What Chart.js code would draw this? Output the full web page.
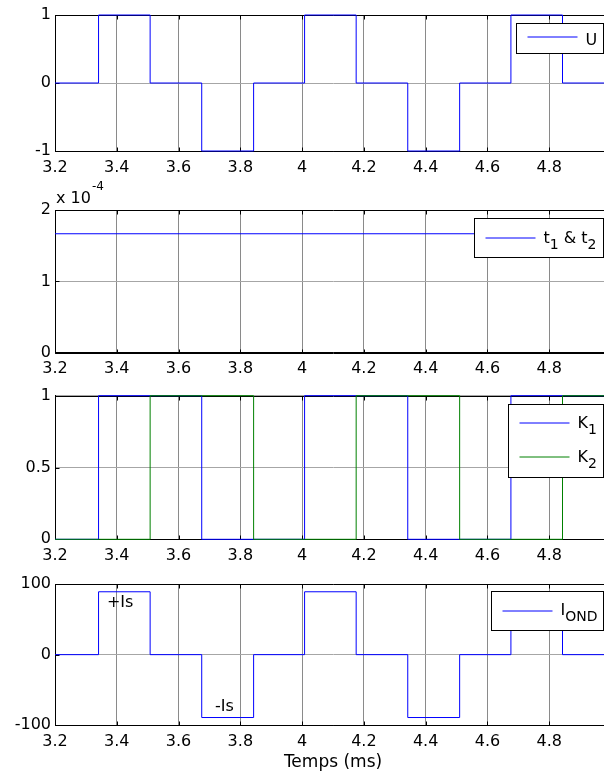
<!DOCTYPE html>
<html>
<head>
<meta charset="utf-8">
<script src="https://cdn.jsdelivr.net/npm/chart.js@4.4.1/dist/chart.umd.min.js"></script>
<style>
  html, body { margin: 0; padding: 0; background: #fff; }
  #wrap { position: relative; width: 604px; height: 773px; overflow: hidden; background: #fff; }
  #wrap canvas { position: absolute; left: 0; }
</style>
</head>
<body>
<div id="wrap">
  <canvas id="cU" width="612" height="180" style="top:0px"></canvas>
  <canvas id="cT" width="612" height="200" style="top:180px"></canvas>
  <canvas id="cK" width="612" height="185" style="top:380px"></canvas>
  <canvas id="cI" width="612" height="208" style="top:565px"></canvas>
</div>
<script>
// switching instants (ms), shared by every square wave below
const tEdges = [3.2, 3.341, 3.508, 3.675, 3.843, 4.008, 4.175, 4.342, 4.51, 4.676, 4.843, 5.0];
const U      = [0, 1, 0, -1, 0, 1, 0, -1, 0, 1, 0, 0];
const K1     = [0, 1, 1, 0, 0, 1, 1, 0, 0, 1, 1, 1];
const K2     = [0, 0, 1, 1, 0, 0, 1, 1, 0, 0, 1, 1];
const IOND   = [0, 89, 0, -89, 0, 89, 0, -89, 0, 89, 0, 0];

// t1 & t2 (s) stay constant over the window
const tT12 = [3.2, 5.0];
const T12  = [1.667e-4, 1.667e-4];

const xTicks  = [3.2, 3.4, 3.6, 3.8, 4.0, 4.2, 4.4, 4.6, 4.8, 5.0];
const yTicksU = [-1, 0, 1];
const yTicksT = [0, 1e-4, 2e-4];
const yTicksK = [0, 0.5, 1];
const yTicksI = [-100, 0, 100];

// text notes on the current plot
const noteText = ['+Is', '-Is'];
const noteT    = [3.368, 3.718];
const noteV    = [73, -74];

const FAMILY = 'DejaVu Sans';
const BLUE = '#0000ff';
const GREEN = '#008000';
const tickFont = {family: FAMILY, size: 16};

const pts = (xs, ys) => xs.map((x, i) => ({x, y: ys[i]}));

// splits "K_1" / "I_{OND}" into plain and subscript runs
function texRuns(str) {
  const runs = [];
  let i = 0;
  while (i < str.length) {
    if (str[i] === '_') {
      let sub;
      if (str[i + 1] === '{') {
        const j = str.indexOf('}', i);
        sub = str.slice(i + 2, j);
        i = j + 1;
      } else {
        sub = str[i + 1];
        i += 2;
      }
      runs.push({t: sub, sub: true});
    } else {
      let j = i;
      while (j < str.length && str[j] !== '_') j++;
      runs.push({t: str.slice(i, j), sub: false});
      i = j;
    }
  }
  return runs;
}

function texWidth(ctx, str) {
  let w = 0;
  texRuns(str).forEach(r => {
    ctx.font = `${r.sub ? 14 : 16}px "${FAMILY}"`;
    w += ctx.measureText(r.t).width;
  });
  return w;
}

function drawTex(ctx, str, x, y) {
  texRuns(str).forEach(r => {
    ctx.font = `${r.sub ? 14 : 16}px "${FAMILY}"`;
    ctx.fillText(r.t, x, r.sub ? y + 6 : y);
    x += ctx.measureText(r.t).width;
  });
}

// box, inward ticks, legend and labels drawn the way the scope plots look
const matlabAxes = {
  id: 'matlabAxes',
  beforeDatasetsDraw(chart) {
    const {ctx, chartArea: a, scales: {x, y}} = chart;
    const L = Math.round(a.left) + 0.5, R = Math.round(a.right) + 0.5;
    const T = Math.round(a.top) + 0.5, B = Math.round(a.bottom) + 0.5;
    ctx.save();
    ctx.strokeStyle = '#000';
    ctx.lineWidth = 1;
    ctx.beginPath();
    ctx.moveTo(L, B); ctx.lineTo(L, T); ctx.lineTo(R, T); ctx.lineTo(R, B); ctx.closePath();
    x.ticks.forEach(t => {
      const px = Math.round(x.getPixelForValue(t.value)) + 0.5;
      ctx.moveTo(px, T); ctx.lineTo(px, T + 4);
      ctx.moveTo(px, B); ctx.lineTo(px, B - 4);
    });
    y.ticks.forEach(t => {
      const py = Math.round(y.getPixelForValue(t.value)) + 0.5;
      ctx.moveTo(L, py); ctx.lineTo(L + 4, py);
    });
    ctx.stroke();
    ctx.restore();
  },
  afterDatasetsDraw(chart, args, opts) {
    const {ctx, chartArea: a, scales: {x, y}} = chart;
    ctx.save();
    ctx.fillStyle = '#000';
    ctx.textBaseline = 'alphabetic';

    if (opts.exponent) {
      ctx.font = `16px "${FAMILY}"`;
      ctx.fillText('x 10', a.left + 1, a.top - 7);
      const w = ctx.measureText('x 10').width;
      ctx.font = `12px "${FAMILY}"`;
      ctx.fillText(opts.exponent, a.left + 2 + w, a.top - 20);
    }

    if (opts.notes) {
      ctx.font = `16px "${FAMILY}"`;
      ctx.textBaseline = 'middle';
      opts.notes.text.forEach((s, i) => {
        ctx.fillText(s, x.getPixelForValue(opts.notes.t[i]), y.getPixelForValue(opts.notes.v[i]));
      });
      ctx.textBaseline = 'alphabetic';
    }

    const lg = opts.legend;
    if (lg) {
      const items = chart.data.datasets.map(d => ({label: d.label, color: d.borderColor}));
      const tw = Math.max(...items.map(it => texWidth(ctx, it.label)));
      const w = 11 + 50 + 8 + tw + 7;
      const right = Math.round(a.right - 8) + 0.5;
      const left = Math.round(right - w) + 0.5;
      const top = Math.round(a.top + (lg.top ?? 8)) + 0.5;
      ctx.fillStyle = '#fff';
      ctx.fillRect(left, top, right - left, lg.height);
      ctx.strokeStyle = '#000';
      ctx.lineWidth = 1;
      ctx.strokeRect(left, top, right - left, lg.height);
      items.forEach((it, i) => {
        const ly = Math.round(top + lg.firstRow + i * 34);
        ctx.strokeStyle = it.color;
        ctx.beginPath();
        ctx.moveTo(left + 11, ly);
        ctx.lineTo(left + 61, ly);
        ctx.stroke();
        ctx.fillStyle = '#000';
        drawTex(ctx, it.label, left + 69, ly + lg.textDy);
      });
    }
    ctx.restore();
  }
};

function xScale(height, withTitle) {
  return {
    type: 'linear',
    min: 3.2,
    max: 5.0,
    afterBuildTicks: s => { s.ticks = xTicks.map(v => ({value: v})); },
    afterFit: s => {
      s.height = height;
      s.paddingLeft = 0;
      s.paddingRight = 0;
    },
    ticks: {
      autoSkip: false,
      maxRotation: 0,
      color: '#000',
      font: tickFont,
      padding: 7,
      callback: v => (v >= 5 ? '' : String(Math.round(v * 10) / 10))
    },
    grid: {color: '#8a8a8a', lineWidth: 1, drawTicks: false},
    border: {color: '#000'},
    title: withTitle
      ? {display: true, text: 'Temps (ms)', color: '#000', font: {family: FAMILY, size: 17}, padding: {top: 0, bottom: 0}}
      : {display: false}
  };
}

function yScale(min, max, ticks, fmt) {
  return {
    type: 'linear',
    min, max,
    afterBuildTicks: s => { s.ticks = ticks.map(v => ({value: v})); },
    afterFit: s => { s.width = 55; },
    ticks: {color: '#000', font: tickFont, padding: 4, callback: fmt},
    grid: {color: '#a6a6a6', lineWidth: 1, drawTicks: false},
    border: {color: '#000'}
  };
}

function makeChart(id, datasets, topPad, xHeight, withTitle, y, extra) {
  return new Chart(document.getElementById(id), {
    type: 'line',
    data: {datasets},
    options: {
      responsive: false,
      animation: false,
      events: [],
      layout: {padding: {top: topPad, right: 1, bottom: 0, left: 0}},
      elements: {point: {radius: 0}, line: {borderWidth: 1, tension: 0}},
      scales: {x: xScale(xHeight, withTitle), y},
      plugins: {legend: {display: false}, tooltip: {enabled: false}, matlabAxes: extra}
    },
    plugins: [matlabAxes]
  });
}

// levels sit right on the axis limits, so let the trace overflow the area a little
const line = (label, xs, ys, color, order) => ({
  label, data: pts(xs, ys), borderColor: color, stepped: true, fill: false, order, clip: 4
});

makeChart('cU',
  [line('U', tEdges, U, BLUE, 0)],
  15, 29, false,
  yScale(-1, 1, yTicksU, v => String(v)),
  {legend: {height: 30, firstRow: 13.5, textDy: 8}});

makeChart('cT',
  [line('t_1 & t_2', tT12, T12, BLUE, 0)],
  30, 27.3, false,
  yScale(0, 2e-4, yTicksT, v => String(Math.round(v * 1e4))),
  {legend: {height: 39, firstRow: 19, textDy: 4.5}, exponent: '-4'});

makeChart('cK',
  [line('K_1', tEdges, K1, BLUE, 1), line('K_2', tEdges, K2, GREEN, 0)],
  15.7, 25.7, false,
  yScale(0, 1, yTicksK, v => String(v)),
  {legend: {height: 73, firstRow: 18.5, textDy: 4.5}});

makeChart('cI',
  [line('I_{OND}', tEdges, IOND, BLUE, 0)],
  19, 47.7, true,
  yScale(-100, 100, yTicksI, v => String(v)),
  {legend: {top: 7, height: 39, firstRow: 19, textDy: 3.5},
   notes: {text: noteText, t: noteT, v: noteV}});
</script>
</body>
</html>
